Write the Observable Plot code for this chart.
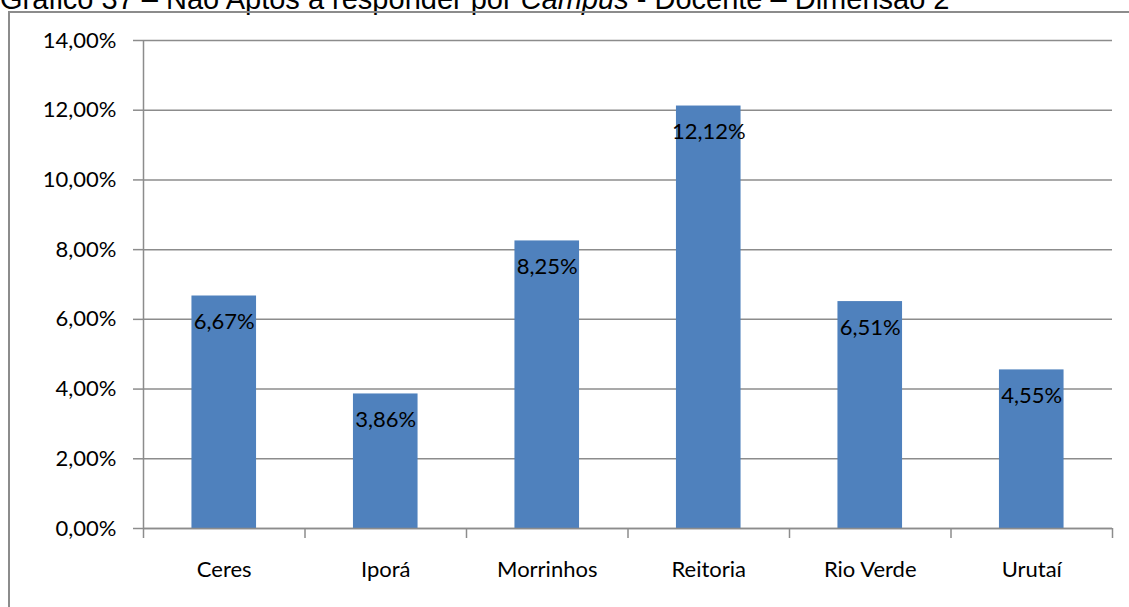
<!DOCTYPE html>
<html>
<head>
<meta charset="utf-8">
<script src="https://cdn.jsdelivr.net/npm/d3@7"></script>
<script src="https://cdn.jsdelivr.net/npm/@observablehq/plot@0.6"></script>
<style>
  html, body { margin: 0; padding: 0; background: #fff; overflow: hidden; }
  #wrap { position: relative; width: 1129px; height: 607px; overflow: hidden; }
  #title { position: absolute; left: 0px; top: -15px; font-family: "Liberation Sans", Arial, sans-serif; font-size: 29px; line-height: 29px; color: #000; white-space: nowrap; }
  #frame { position: absolute; left: 8px; top: 11px; width: 1200px; height: 700px; border-left: 2px solid #8c8c8c; border-top: 2px solid #8c8c8c; box-sizing: border-box; }
  #chart { position: absolute; left: 0; top: 0; }
</style>
</head>
<body>
<div id="wrap">
  <div id="title">Gráfico 37 – Não Aptos a responder por <i>Campus</i> - Docente – Dimensão 2</div>
  <div id="frame"></div>
  <div id="chart"></div>
</div>
<script>
const categories = ["Ceres", "Iporá", "Morrinhos", "Reitoria", "Rio Verde", "Urutaí"];
const values = [0.0667, 0.0386, 0.0825, 0.1212, 0.0651, 0.0455];
const valueLabels = ["6,67%", "3,86%", "8,25%", "12,12%", "6,51%", "4,55%"];
const yTicks = [0, 0.02, 0.04, 0.06, 0.08, 0.10, 0.12, 0.14];

const data = categories.map((c, i) => ({cat: c, i, value: values[i], label: valueLabels[i]}));
const fmt = v => (v * 100).toFixed(2).replace(".", ",") + "%";
const font = "Lato, 'Open Sans', sans-serif";
const gray = "#8c8c8c";

const chart = Plot.plot({
  width: 1129,
  height: 607,
  marginLeft: 143,
  marginRight: 17,
  marginTop: 40,
  marginBottom: 79,
  style: {fontFamily: font, fontSize: "22px", color: "#000", background: "transparent"},
  x: {type: "linear", domain: [0, categories.length]},
  y: {domain: [0, 0.14]},
  marks: [
    Plot.gridY(yTicks, {stroke: gray, strokeOpacity: 1, strokeWidth: 1.5}),
    Plot.rectY(data, {x1: d => d.i + 0.3, x2: d => d.i + 0.7, y: "value", fill: "#4f81bd"}),
    Plot.ruleX([0], {y1: 0, y2: 0.14, stroke: gray, strokeWidth: 1.5}),
    Plot.ruleY([0], {stroke: gray, strokeWidth: 1.5}),
    Plot.axisY(yTicks, {tickFormat: fmt, tickSize: 10, tickPadding: 17, stroke: gray, strokeWidth: 1.5, label: null, fontSize: 22}),
    Plot.axisX(d3.range(categories.length + 1), {tickFormat: () => "", tickSize: 10, stroke: gray, strokeWidth: 1.5, label: null}),
    Plot.axisX(categories.map((c, i) => i + 0.5), {tickFormat: v => categories[Math.floor(v)], tickSize: 0, tickPadding: 33, label: null, fontSize: 22}),
    Plot.text(data, {x: d => d.i + 0.5, y: "value", text: "label", dy: 26, fontSize: 22, fill: "#000"})
  ]
});
document.getElementById("chart").appendChild(chart);
</script>
</body>
</html>
